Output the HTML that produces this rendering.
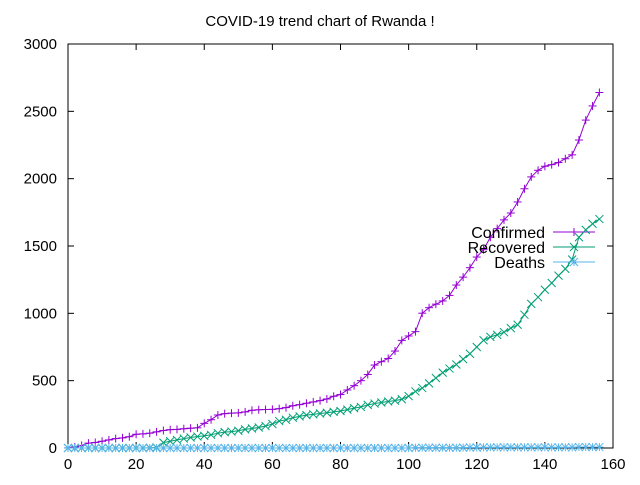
<!DOCTYPE html>
<html><head><meta charset="utf-8"><style>
body{margin:0;background:#fff}
svg text{font-family:"Liberation Sans",sans-serif;font-size:15px;fill:#000}
svg text.lg{font-size:16px}
</style></head><body>
<svg id="c" width="640" height="480"></svg>
<script>
const days=[0,2,4,6,8,10,12,14,16,18,20,22,24,26,28,30,32,34,36,38,40,42,44,46,48,50,52,54,56,58,60,62,64,66,68,70,72,74,76,78,80,82,84,86,88,90,92,94,96,98,100,102,104,106,108,110,112,114,116,118,120,122,124,126,128,130,132,134,136,138,140,142,144,146,148,150,152,154,156];
const confirmed=[1,8,19,36,41,50,60,70,75,84,102,105,110,120,130,136,138,143,147,150,183,210,245,255,259,261,268,280,284,286,287,292,300,314,322,332,342,352,364,384,397,431,463,500,546,616,641,665,720,799,832,864,1001,1042,1068,1092,1133,1210,1269,1339,1418,1473,1565,1629,1694,1745,1827,1925,2013,2062,2092,2104,2120,2148,2177,2287,2435,2540,2640];
const recovered=[0,0,0,0,0,0,0,0,0,0,0,0,2,4,40,50,60,70,78,85,90,98,110,118,122,128,138,145,152,163,178,200,210,225,235,244,250,256,262,268,275,285,296,305,320,330,338,345,352,362,385,420,445,480,520,560,590,620,660,700,750,800,825,840,860,890,915,990,1070,1120,1175,1225,1280,1330,1400,1565,1620,1665,1700];
const deaths=[0,0,0,0,0,0,0,0,0,0,0,0,0,0,0,0,0,0,0,0,0,0,0,0,0,0,0,0,0,0,0,0,0,0,0,0,0,0,0,0,0,0,0,0,0,0,0,0,0,0,0,2,2,2,2,2,2,2,3,4,4,5,5,5,5,5,5,5,5,5,5,5,5,5,5,7,7,7,7];
const xTicks=[0,20,40,60,80,100,120,140,160];
const yTicks=[0,500,1000,1500,2000,2500,3000];
const L=68,R=613,T=44,B=448;
const X=d=>L+(d/160)*(R-L);
const Y=v=>B-(v/3000)*(B-T);
const svg=document.getElementById('c');
const NS='http://www.w3.org/2000/svg';
function mk(t,a,p){const e=document.createElementNS(NS,t);for(const k in a)e.setAttribute(k,a[k]);(p||svg).appendChild(e);return e;}
let e;
e=mk('text',{x:320,y:26,'text-anchor':'middle'});e.textContent='COVID-19 trend chart of Rwanda !';


xTicks.forEach(t=>{
 e=mk('line',{x1:X(t),x2:X(t),y1:B,y2:B-6,stroke:'#000'});
 
 
 mk('line',{x1:X(t),x2:X(t),y1:T,y2:T+6,stroke:'#000'});
 e=mk('text',{x:X(t),y:469,'text-anchor':'middle'});e.textContent=t;
 
 
});
yTicks.forEach(t=>{
 e=mk('line',{x1:L,x2:L+6,y1:Y(t),y2:Y(t),stroke:'#000'});
 
 
 mk('line',{x1:R,x2:R-6,y1:Y(t),y2:Y(t),stroke:'#000'});
 e=mk('text',{x:57,y:Y(t)+5,'text-anchor':'end'});e.textContent=t;
 
 
});
e=mk('rect',{x:L,y:T,width:R-L,height:B-T,fill:'none',stroke:'#000'});


function marker(g,type,x,y,col){
 const s=4;
 if(type!=='x'){mk('line',{x1:x-s,x2:x+s,y1:y,y2:y,stroke:col},g);mk('line',{x1:x,x2:x,y1:y-s,y2:y+s,stroke:col},g);}
 if(type!=='+'){mk('line',{x1:x-s,x2:x+s,y1:y-s,y2:y+s,stroke:col},g);mk('line',{x1:x-s,x2:x+s,y1:y+s,y2:y-s,stroke:col},g);}
}
const series=[['confirmed',confirmed,'#9400d3','+','Confirmed'],['recovered',recovered,'#009e73','x','Recovered'],['deaths',deaths,'#56b4e9','*','Deaths']];
series.forEach((s,i)=>{
 const g=mk('g',{});
 
 
 e=mk('polyline',{points:days.map((d,j)=>X(d)+','+Y(s[1][j])).join(' '),fill:'none',stroke:s[2]},g);
 
 
 days.forEach((d,j)=>marker(g,s[3],X(d),Y(s[1][j]),s[2]));
 const ly=232+i*15;
 const lg=mk('g',{});
 
 
 e=mk('text',{x:545,y:ly+6,'text-anchor':'end','class':'lg'},lg);e.textContent=s[4];
 mk('line',{x1:553,x2:595,y1:ly,y2:ly,stroke:s[2]},lg);
 marker(lg,s[3],574,ly,s[2]);
});
</script>
</body></html>
